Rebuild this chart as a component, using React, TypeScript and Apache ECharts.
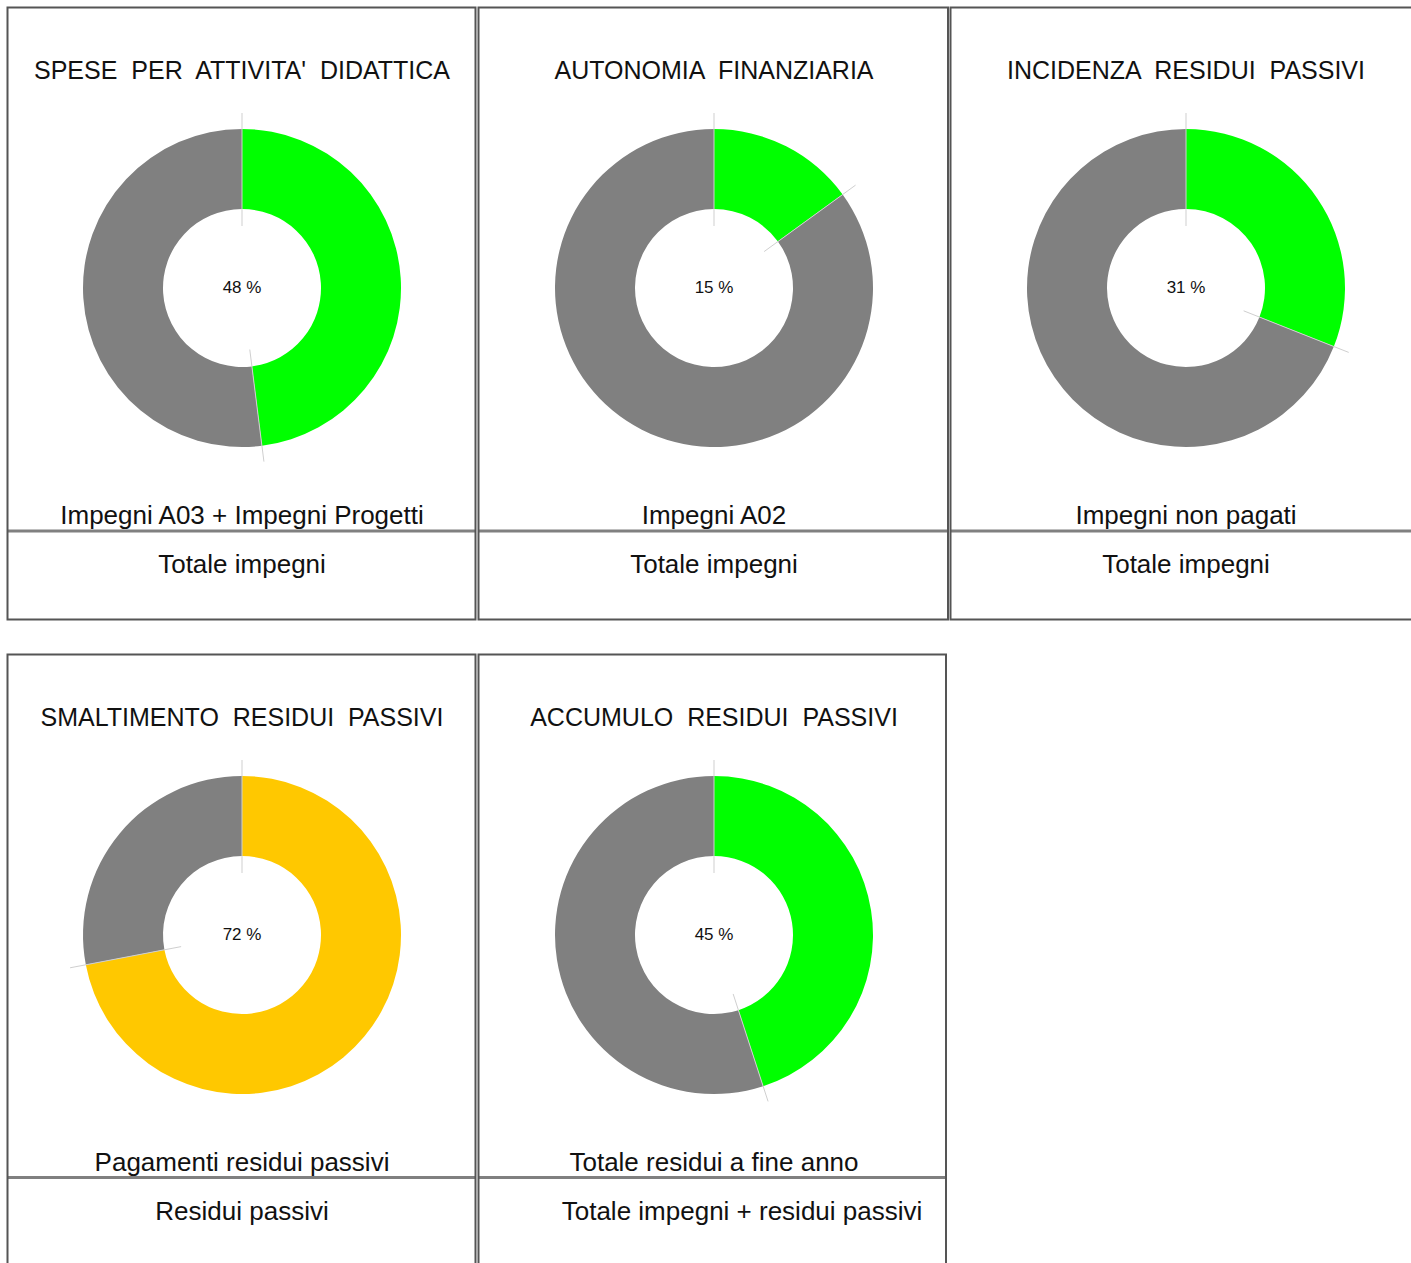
import React, { useEffect, useRef } from "react";
import * as echarts from "echarts";

// ---- data ----
const titles = [
  "SPESE  PER  ATTIVITA'  DIDATTICA",
  "AUTONOMIA  FINANZIARIA",
  "INCIDENZA  RESIDUI  PASSIVI",
  "SMALTIMENTO  RESIDUI  PASSIVI",
  "ACCUMULO  RESIDUI  PASSIVI",
];
const numeratorLabels = [
  "Impegni A03 + Impegni Progetti",
  "Impegni A02",
  "Impegni non pagati",
  "Pagamenti residui passivi",
  "Totale residui a fine anno",
];
const denominatorLabels = [
  "Totale impegni",
  "Totale impegni",
  "Totale impegni",
  "Residui passivi",
  "Totale impegni + residui passivi",
];
const percentages = [48, 15, 31, 72, 45];
const highlightColors = ["#00ff00", "#00ff00", "#00ff00", "#ffc800", "#00ff00"];
const restColor = "#808080";

// ---- layout ----
const colX = [242, 714, 1186];
const rowY = [0, 647];
const cellRects = [
  { x: 7.5, y: 7.5, w: 468, h: 612 },
  { x: 478.5, y: 7.5, w: 469.5, h: 612 },
  { x: 950.5, y: 7.5, w: 470, h: 612 },
  { x: 7.5, y: 654.5, w: 468, h: 650 },
  { x: 478.5, y: 654.5, w: 467.5, h: 650 },
];
const denomX = [242, 714, 1186, 242, 742];
const FONT = "'Liberation Sans', Arial, Helvetica, sans-serif";

export default function App() {
  const ref = useRef<HTMLDivElement>(null);
  useEffect(() => {
    if (!ref.current) return;
    const chart = echarts.init(ref.current, null, { renderer: "svg" });
    const graphics: any[] = [];
    const series: any[] = [];

    cellRects.forEach((c, i) => {
      graphics.push({
        type: "rect",
        shape: { x: c.x, y: c.y, width: c.w, height: c.h },
        style: { fill: "none", stroke: "#555555", lineWidth: 2 },
        z: 50,
      });
      const dy = i < 3 ? 531 : 1177.5;
      graphics.push({
        type: "line",
        shape: { x1: c.x, y1: dy, x2: c.x + c.w, y2: dy },
        style: { stroke: "#808080", lineWidth: 3 },
        z: 49,
      });
    });

    percentages.forEach((p, i) => {
      const cx = colX[i % 3];
      const off = rowY[i < 3 ? 0 : 1];
      const cy = 288 + off;
      series.push({
        type: "pie",
        center: [cx, cy],
        radius: [79, 159],
        startAngle: 90,
        clockwise: true,
        silent: true,
        label: { show: false },
        labelLine: { show: false },
        emphasis: { disabled: true },
        itemStyle: { borderWidth: 0 },
        data: [
          { value: p, name: "a", itemStyle: { color: highlightColors[i] } },
          { value: 100 - p, name: "b", itemStyle: { color: restColor } },
        ],
      });
      [0, p].forEach((v) => {
        const th = (v / 100) * Math.PI * 2;
        const r1 = 62, r2 = 175;
        graphics.push({
          type: "line",
          shape: {
            x1: cx + r1 * Math.sin(th),
            y1: cy - r1 * Math.cos(th),
            x2: cx + r2 * Math.sin(th),
            y2: cy - r2 * Math.cos(th),
          },
          style: { stroke: "#cfcfcf", lineWidth: 1 },
          z: 100,
        });
      });
      graphics.push({
        type: "text",
        x: cx,
        y: 70 + off,
        style: {
          text: titles[i],
          font: `25px ${FONT}`,
          fill: "#111",
          align: "center",
          verticalAlign: "middle",
        },
        z: 60,
      });
      graphics.push({
        type: "text",
        x: cx,
        y: 287 + off,
        style: {
          text: `${p} %`,
          font: `17px ${FONT}`,
          fill: "#111",
          align: "center",
          verticalAlign: "middle",
        },
        z: 60,
      });
      graphics.push({
        type: "text",
        x: cx,
        y: 515 + off,
        style: {
          text: numeratorLabels[i],
          font: `26px ${FONT}`,
          fill: "#111",
          align: "center",
          verticalAlign: "middle",
        },
        z: 60,
      });
      graphics.push({
        type: "text",
        x: denomX[i],
        y: 564 + off,
        style: {
          text: denominatorLabels[i],
          font: `26px ${FONT}`,
          fill: "#111",
          align: "center",
          verticalAlign: "middle",
        },
        z: 60,
      });
    });

    chart.setOption({
      animation: false,
      backgroundColor: "#ffffff",
      series,
      graphic: { elements: graphics },
    });
    return () => chart.dispose();
  }, []);
  return (
    <div
      ref={ref}
      style={{ position: "absolute", left: 0, top: 0, width: 1411, height: 1263 }}
    />
  );
}
